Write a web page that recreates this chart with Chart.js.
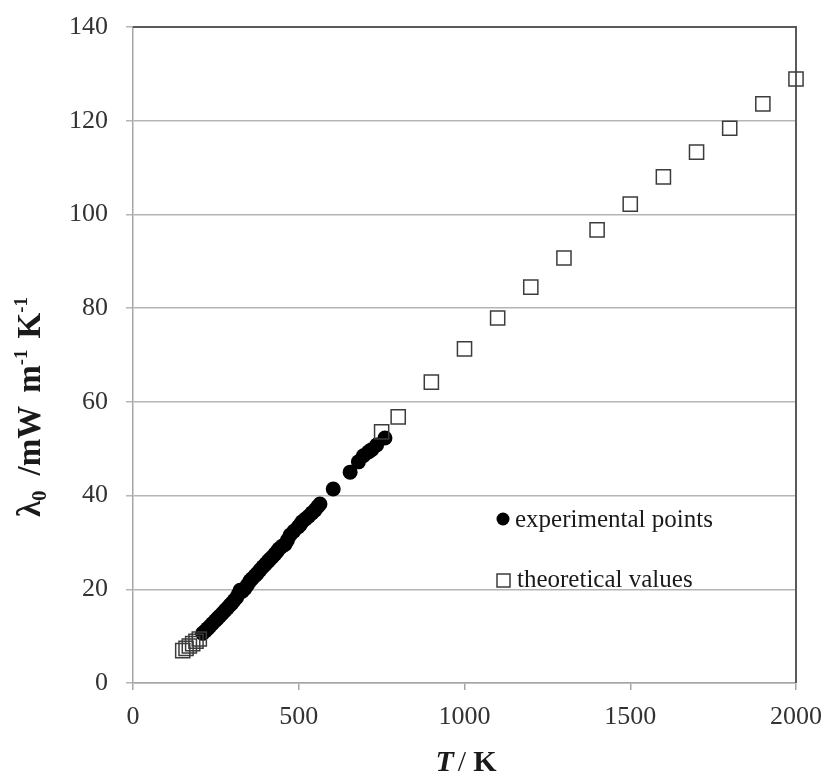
<!DOCTYPE html>
<html>
<head>
<meta charset="utf-8">
<title>Thermal conductivity</title>
<script src="https://cdn.jsdelivr.net/npm/chart.js@4.4.1/dist/chart.umd.min.js"></script>
<style>
  html, body { margin: 0; padding: 0; background: #fff; }
  canvas { display: block; }
</style>
</head>
<body>
<canvas id="chart" width="833" height="777"></canvas>
<script>
// measured conductivity (T in K, lambda in mW m-1 K-1)
const expTemps = [210, 218, 225, 232, 240, 248, 255, 262, 270, 278, 285, 292, 298, 305, 312, 318, 323,
  330, 338, 345, 353, 360, 368, 375, 383, 392, 400, 408, 413, 420, 428, 434, 440, 450, 459, 466, 474,
  485, 498, 505, 510, 520, 530, 540, 549, 557, 564, 604, 655, 680, 695, 710, 720, 735, 760];
const expValues = [10.6, 11.1, 11.6, 12.1, 12.7, 13.3, 13.8, 14.3, 14.9, 15.5, 16.0, 16.6, 17.0, 17.6, 18.2, 19.0, 19.8,
  19.6, 20.2, 20.9, 21.8, 22.3, 22.9, 23.4, 24.1, 24.8, 25.4, 26.0, 26.4, 26.9, 27.5, 28.0, 28.6, 29.2, 29.6, 30.5, 31.6,
  32.4, 33.3, 33.8, 34.4, 35.0, 35.6, 36.3, 36.9, 37.6, 38.2, 41.4, 45.0, 47.2, 48.5, 49.3, 49.8, 50.8, 52.3];

// calculated values
const theoTemps = [150, 160, 170, 180, 190, 200, 750, 800, 900, 1000, 1100, 1200, 1300, 1400, 1500, 1600, 1700, 1800, 1900, 2000];
const theoValues = [6.9, 7.4, 7.9, 8.4, 8.9, 9.4, 53.6, 56.8, 64.2, 71.3, 77.9, 84.5, 90.7, 96.7, 102.2, 108.0, 113.3, 118.4, 123.6, 128.9];

const xTicks = [0, 500, 1000, 1500, 2000];
const yTicks = [0, 20, 40, 60, 80, 100, 120, 140];

const serif = "'Liberation Serif', 'Times New Roman', serif";
const toPoints = (xs, ys) => xs.map((x, i) => ({ x, y: ys[i] }));

// draws a run of text pieces with their own fonts and baseline shifts
function drawRich(ctx, parts, x, y) {
  let cx = x;
  for (const p of parts) {
    ctx.font = p.font;
    cx += p.gap || 0;
    ctx.fillText(p.text, cx, y + (p.dy || 0));
    cx += ctx.measureText(p.text).width;
  }
  return cx - x;
}

function richWidth(ctx, parts) {
  let w = 0;
  for (const p of parts) {
    ctx.font = p.font;
    w += (p.gap || 0) + ctx.measureText(p.text).width;
  }
  return w;
}

// keep the plot box exactly where the layout padding puts it
function noOverflow(scale) {
  scale.paddingTop = 0;
  scale.paddingBottom = 0;
  scale.paddingLeft = 0;
  scale.paddingRight = 0;
}

const decorations = {
  id: "decorations",
  beforeDatasetsDraw(chart) {
    const { ctx, chartArea: a } = chart;
    ctx.save();
    ctx.strokeStyle = "#5a5a5a";
    ctx.lineWidth = 2;
    ctx.beginPath();
    ctx.moveTo(a.left, a.top);
    ctx.lineTo(a.right, a.top);
    ctx.lineTo(a.right, a.bottom);
    ctx.stroke();
    ctx.restore();
  },
  afterDraw(chart) {
    const { ctx } = chart;
    ctx.save();
    ctx.fillStyle = "#1a1a1a";
    ctx.textBaseline = "alphabetic";

    // x axis title
    const xParts = [
      { text: "T", font: `italic bold 30px ${serif}` },
      { text: "/", font: `30px ${serif}`, gap: 4 },
      { text: "K", font: `bold 30px ${serif}`, gap: 7 },
    ];
    const xw = richWidth(ctx, xParts);
    drawRich(ctx, xParts, 466 - xw / 2, 771);

    // y axis title, rotated
    const yParts = [
      { text: "λ", font: `bold 33px ${serif}` },
      { text: "0", font: `bold 21px ${serif}`, dy: 6 },
      { text: "/mW", font: `bold 33px ${serif}`, gap: 15 },
      { text: "m", font: `bold 33px ${serif}`, gap: 13 },
      { text: "-1", font: `bold 19px ${serif}`, dy: -13 },
      { text: "K", font: `bold 33px ${serif}`, gap: 11 },
      { text: "-1", font: `bold 19px ${serif}`, dy: -13 },
    ];
    const yw = richWidth(ctx, yParts);
    ctx.save();
    ctx.translate(40, 407);
    ctx.rotate(-Math.PI / 2);
    drawRich(ctx, yParts, -yw / 2, 0);
    ctx.restore();

    // legend inside the plot
    const exp = chart.data.datasets[1];
    const theo = chart.data.datasets[0];
    ctx.fillStyle = exp.backgroundColor;
    ctx.beginPath();
    ctx.arc(503, 519, 6.5, 0, Math.PI * 2);
    ctx.fill();
    ctx.strokeStyle = theo.borderColor;
    ctx.lineWidth = 1.5;
    ctx.strokeRect(497, 574, 13, 13);

    ctx.fillStyle = "#1a1a1a";
    ctx.font = `25px ${serif}`;
    ctx.fillText(exp.label, 515, 527);
    ctx.fillText(theo.label, 517, 587);
    ctx.restore();
  },
};

new Chart(document.getElementById("chart"), {
  type: "scatter",
  data: {
    datasets: [
      {
        label: "theoretical values",
        data: toPoints(theoTemps, theoValues),
        pointStyle: "rect",
        pointRadius: 10,
        borderColor: "#3c3c3c",
        borderWidth: 1.5,
        backgroundColor: "rgba(0,0,0,0)",
        clip: false,
        order: 0,
      },
      {
        label: "experimental points",
        data: toPoints(expTemps, expValues),
        pointStyle: "circle",
        pointRadius: 7.5,
        borderWidth: 0,
        backgroundColor: "#000",
        borderColor: "#000",
        clip: false,
        order: 1,
      },
    ],
  },
  options: {
    responsive: false,
    animation: false,
    events: [],
    layout: { padding: { top: 27, right: 37, left: 0, bottom: 0 } },
    plugins: {
      legend: { display: false },
      tooltip: { enabled: false },
    },
    scales: {
      x: {
        type: "linear",
        min: 0,
        max: 2000,
        afterBuildTicks: (scale) => { scale.ticks = xTicks.map((value) => ({ value })); },
        afterFit: (scale) => { scale.height = 94; noOverflow(scale); },
        grid: { drawOnChartArea: false, tickLength: 7, color: "#a6a6a6", lineWidth: 1.5 },
        border: { color: "#a6a6a6", width: 1.5 },
        ticks: {
          color: "#333",
          padding: 12,
          maxRotation: 0,
          font: { family: serif, size: 26 },
          callback: (value) => String(value),
        },
      },
      y: {
        min: 0,
        max: 140,
        afterBuildTicks: (scale) => { scale.ticks = yTicks.map((value) => ({ value })); },
        afterFit: (scale) => { scale.width = 133; noOverflow(scale); },
        grid: { color: "#b5b5b5", lineWidth: 1.5, tickLength: 7 },
        border: { color: "#a6a6a6", width: 1.5 },
        ticks: { color: "#333", padding: 18, font: { family: serif, size: 26 } },
      },
    },
  },
  plugins: [decorations],
});
</script>
</body>
</html>
